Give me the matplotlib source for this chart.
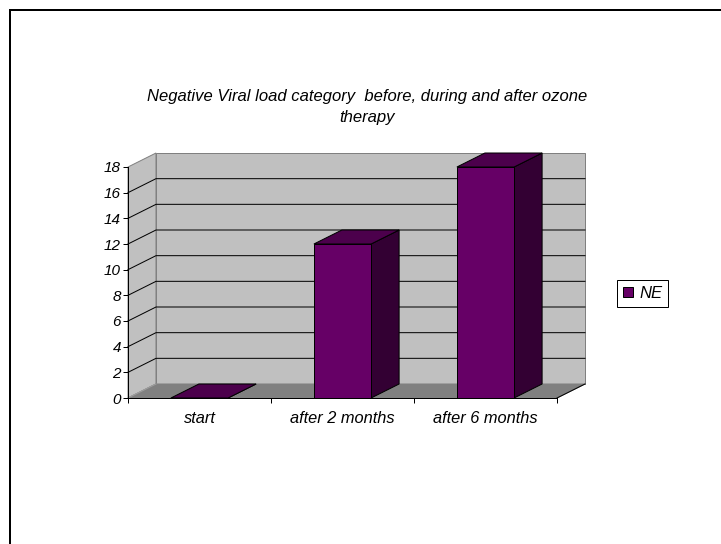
import matplotlib
matplotlib.use('Agg')
import matplotlib.pyplot as plt
from matplotlib.patches import Polygon, Rectangle, Patch
from matplotlib.lines import Line2D
from matplotlib.transforms import IdentityTransform

categories = ['start', 'after 2 months', 'after 6 months']
values = [0, 12, 18]
series_name = 'NE'
y_ticks = list(range(0, 20, 2))
title = 'Negative Viral load category  before, during and after ozone\ntherapy'

plt.rcParams['font.family'] = ['Liberation Sans', 'DejaVu Sans']

W, H = 721, 544
fig = plt.figure(figsize=(W / 100, H / 100), dpi=100)
ax = fig.add_axes([128 / W, 1 - 398 / H, 429 / W, 231 / H])
n = len(categories)
ymax = y_ticks[-1]
ax.set_xlim(0, n)
ax.set_ylim(0, ymax)
ax.set_autoscale_on(False)
ax.patch.set_visible(False)

# oblique depth offset (pixels) for the fake 3d look
DX, DY = 28, 14


def pt(x, y, d):
    px, py = ax.transData.transform((x, y))
    return (px + d * DX, py + d * DY)


def face(verts, fc, ec, lw=0.72, z=1):
    poly = Polygon([pt(*v) for v in verts], closed=True, facecolor=fc,
                   edgecolor=ec, linewidth=lw, transform=IdentityTransform(),
                   zorder=z, clip_on=False)
    ax.add_artist(poly)


def line(pts, color, lw=0.72, z=1.5):
    xy = [pt(*p) for p in pts]
    ln = Line2D([p[0] for p in xy], [p[1] for p in xy], color=color,
                linewidth=lw, transform=IdentityTransform(), zorder=z,
                clip_on=False)
    ax.add_artist(ln)


# walls and floor
face([(0, 0, 0), (0, ymax, 0), (0, ymax, 1), (0, 0, 1)], '#C0C0C0', '#808080')
face([(0, 0, 1), (n, 0, 1), (n, ymax, 1), (0, ymax, 1)], '#C0C0C0', '#808080')
face([(0, 0, 0), (n, 0, 0), (n, 0, 1), (0, 0, 1)], '#808080', '#808080')
line([(0, 0, 0), (0, 0, 1)], '#A0A0A0', z=1.2)

for v in y_ticks[1:-1]:
    line([(0, v, 0), (0, v, 1), (n, v, 1)], 'black')
line([(n, 0, 0), (n, 0, 1)], 'black')

# bars
bw = 0.4
for i, v in enumerate(values):
    x0, x1 = i + 0.5 - bw / 2, i + 0.5 + bw / 2
    face([(x1, 0, 0), (x1, 0, 1), (x1, v, 1), (x1, v, 0)], '#330033', 'black', z=3)
    face([(x0, 0, 0), (x1, 0, 0), (x1, v, 0), (x0, v, 0)], '#660066', 'black', z=3)
    face([(x0, v, 0), (x1, v, 0), (x1, v, 1), (x0, v, 1)], '#4C004C', 'black', z=3)

# axes
for s in ['top', 'right']:
    ax.spines[s].set_visible(False)
for s in ['left', 'bottom']:
    ax.spines[s].set_linewidth(0.72)
    ax.spines[s].set_zorder(4)
ax.set_yticks(y_ticks)
ax.set_yticklabels([str(t) for t in y_ticks], fontsize=11, style='italic')
ax.tick_params(axis='y', direction='out', length=3.6, width=0.72, pad=1.5)
ax.set_xticks(range(n + 1))
ax.set_xticklabels([])
ax.tick_params(axis='x', which='major', direction='out', length=3.6, width=0.72)
ax.set_xticks([i + 0.5 for i in range(n)], minor=True)
ax.set_xticklabels(categories, minor=True, fontsize=11.8, style='italic')
ax.tick_params(axis='x', which='minor', length=0, pad=9.5)

fig.text(367 / W, 1 - 107 / H, title, ha='center', va='center',
         style='italic', fontsize=12, linespacing=1.45)

leg = fig.legend(handles=[Patch(facecolor='#660066', edgecolor='black',
                                linewidth=0.72, label=series_name)],
                 loc='center left', bbox_to_anchor=(617 / W, 1 - 293.5 / H),
                 borderaxespad=0, frameon=True, fancybox=False,
                 edgecolor='black', framealpha=1,
                 borderpad=0.35, handlelength=0.6, handleheight=0.6,
                 handletextpad=0.4, prop={'style': 'italic', 'size': 12})
leg.get_frame().set_linewidth(0.72)

fig.add_artist(Rectangle((10 / W, -0.1), 1.2, 1 - 10 / H + 0.1,
                         transform=fig.transFigure, fill=False,
                         edgecolor='black', linewidth=1.44))

fig.savefig('out.png', dpi=100)
